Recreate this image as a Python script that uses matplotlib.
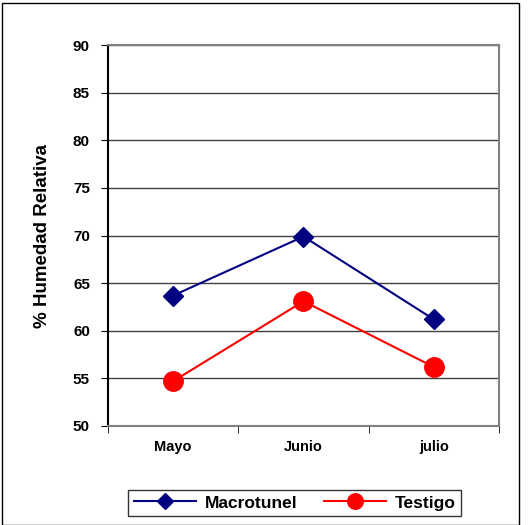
import numpy as np
import matplotlib.pyplot as plt
from matplotlib.patches import Rectangle

# Datos de humedad relativa por mes
meses = ["Mayo", "Junio", "julio"]
macrotunel = [63.7, 69.9, 61.2]
testigo = [54.7, 63.1, 56.2]
y_ticks = [50, 55, 60, 65, 70, 75, 80, 85, 90]

plt.rcParams["font.family"] = ["Liberation Sans", "DejaVu Sans"]
plt.rcParams["font.weight"] = "bold"

fig = plt.figure(figsize=(5.28, 5.25), dpi=100)
ax = fig.add_axes([0.2045, 0.1886, 0.7405, 0.7254])

x = np.arange(len(meses))
ax.plot(x, macrotunel, color="#000080", lw=1.5, marker="D", ms=10,
        label="Macrotunel")
ax.plot(x, testigo, color="#ff0000", lw=1.5, marker="o", ms=14,
        label="Testigo")

ax.set_xlim(-0.5, len(meses) - 0.5)
ax.set_ylim(50, 90)
ax.set_yticks(y_ticks)
ax.set_yticklabels([str(v) for v in y_ticks], fontsize=11, fontweight="bold")
ax.set_xticks(x)
ax.set_xticklabels(meses, fontsize=10.5, fontweight="bold")
ax.set_xticks(np.arange(len(meses) + 1) - 0.5, minor=True)
ax.tick_params(axis="x", which="major", length=0, pad=10)
ax.tick_params(axis="x", which="minor", length=5, color="black")
ax.tick_params(axis="y", length=5, pad=8)

ax.grid(axis="y", color="#404040", lw=1)
ax.set_axisbelow(True)
for s in ["top", "right", "bottom"]:
    ax.spines[s].set_color("#808080")
    ax.spines[s].set_linewidth(1.5)
ax.spines["left"].set_color("black")
ax.spines["left"].set_linewidth(1.5)

ax.set_ylabel("% Humedad Relativa", fontsize=13.5, fontweight="bold", labelpad=16)

leg = fig.legend(loc="center", bbox_to_anchor=(0.558, 0.042), ncol=2,
                 frameon=True, fancybox=False, edgecolor="black",
                 prop={"size": 12.5, "weight": "bold"}, handlelength=3.6,
                 markerscale=0.8, columnspacing=1.5, handletextpad=0.5,
                 borderpad=0.3)
leg.get_frame().set_linewidth(1)

# Marco exterior de la figura
fig.patches.append(Rectangle((0.003, 0.0), 0.98, 0.995, transform=fig.transFigure,
                             fill=False, edgecolor="black", lw=1))

fig.savefig("out.png", dpi=100)
